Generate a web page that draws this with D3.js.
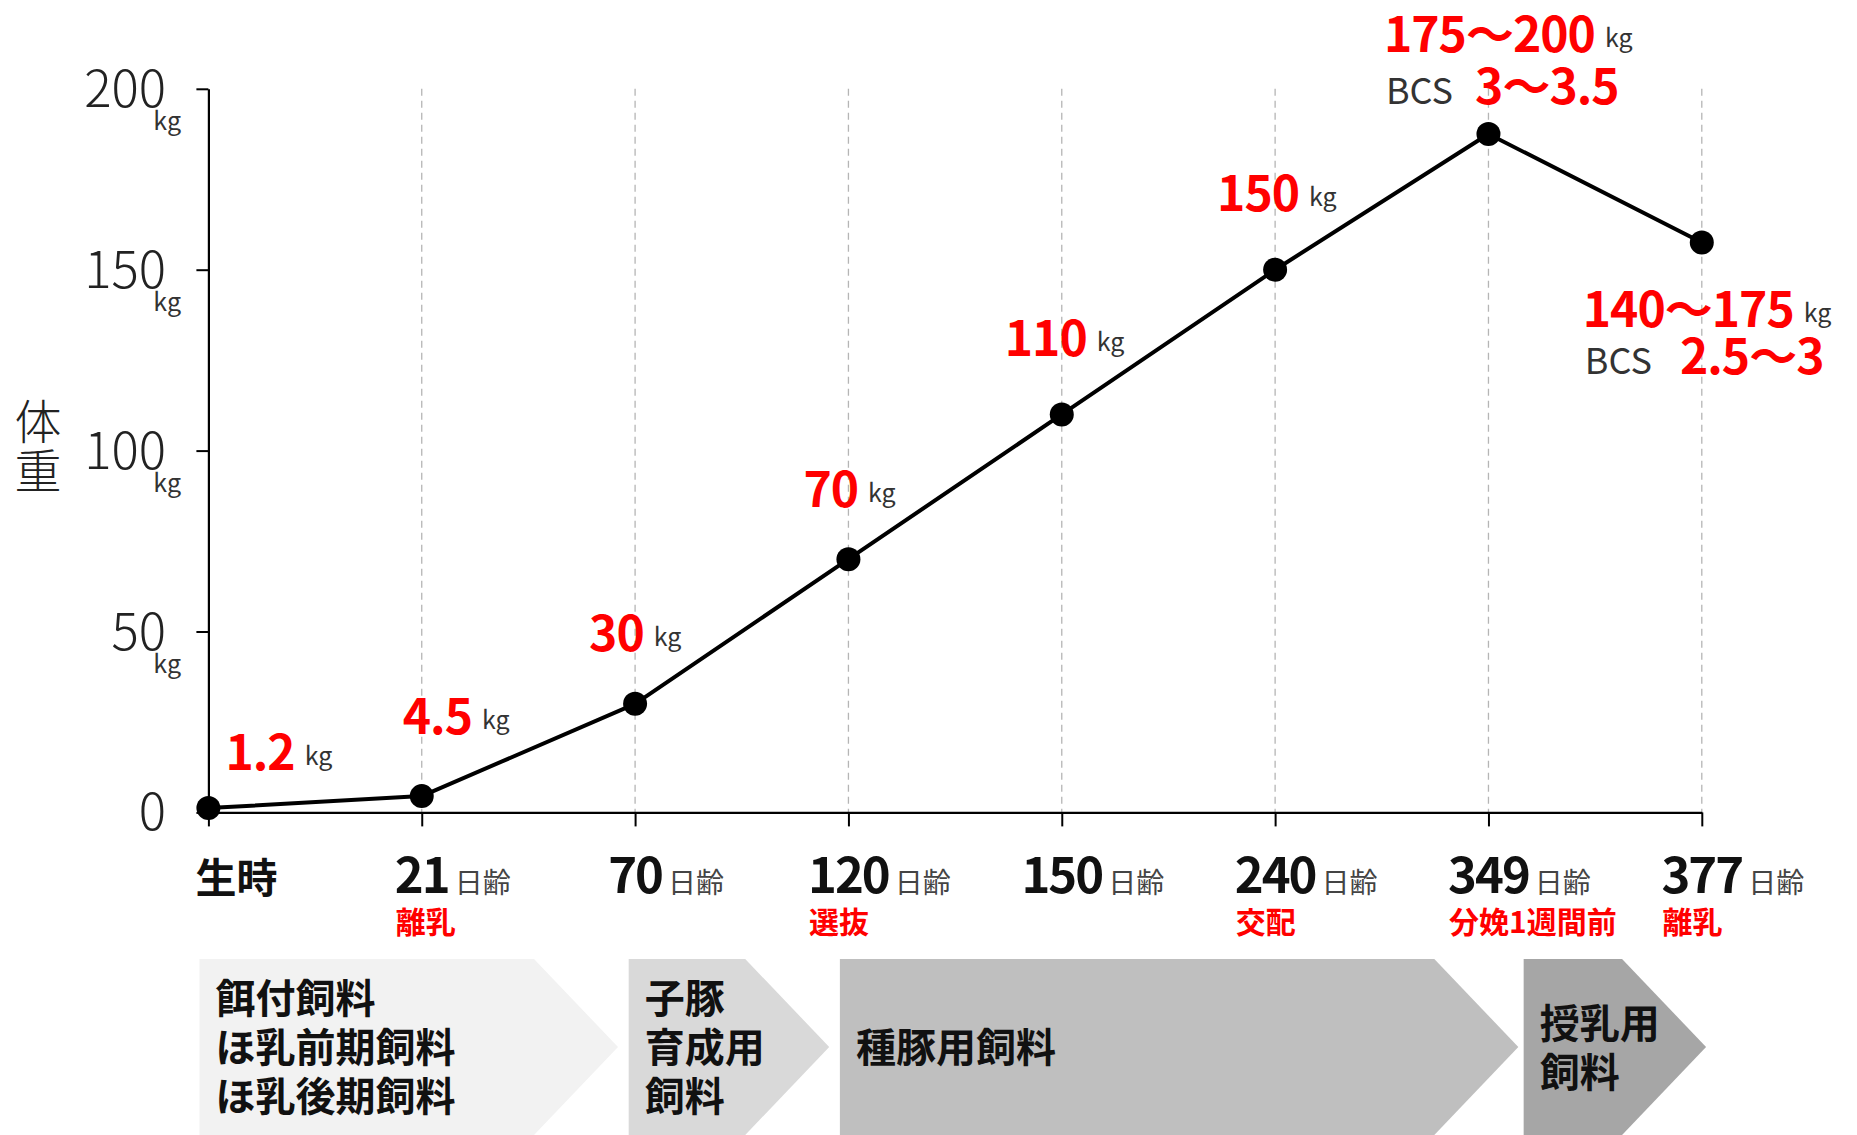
<!DOCTYPE html>
<html lang="ja">
<head>
<meta charset="utf-8">
<script src="https://cdn.jsdelivr.net/npm/d3@7"></script>
<style>
  html, body { margin: 0; padding: 0; background: #fff; }
  svg { display: block; }
  text { font-family: "Noto Sans CJK JP", "Noto Sans", sans-serif; }
</style>
</head>
<body>
<svg id="chart" width="1857" height="1135"></svg>
<script>
// ---------------- data ----------------
const categories   = ["生時", "21", "70", "120", "150", "240", "349", "377"];
const dayUnit      = "日齢";
const weights      = [1.2, 4.5, 30, 70, 110, 150, 187.5, 157.5];
const eventLabels  = ["", "離乳", "", "選抜", "", "交配", "分娩1週間前", "離乳"];
const valueLabels  = ["1.2", "4.5", "30", "70", "110", "150", "175～200", "140～175"];
const bcsLabels    = [null, null, null, null, null, null, "3～3.5", "2.5～3"];
const yTicks       = [0, 50, 100, 150, 200];
const yTitle       = ["体", "重"];
const unitLabel    = "kg";
const feedStages   = [
  ["餌付飼料", "ほ乳前期飼料", "ほ乳後期飼料"],
  ["子豚", "育成用", "飼料"],
  ["種豚用飼料"],
  ["授乳用", "飼料"]
];
// stage spans in category units (start, arrow tip)
const stageSpans   = [[-0.042, 1.92], [1.97, 2.91], [2.96, 6.14], [6.165, 7.02]];

// ---------------- layout / style ----------------
const RED = "#ff0000";
const stageColors = ["#f2f2f2", "#d9d9d9", "#bfbfbf", "#a6a6a6"];
// label offsets relative to the point (left edge of number, vertical centre)
const labelOffsets = [[17, -56], [-19, -80], [-46, -70], [-45, -70], [-57, -76], [-58, -76]];

const svg = d3.select("#chart");

const x = d3.scalePoint().domain(categories).range([208.4, 1701.8]);
const step = x.step();
const xf = v => x.range()[0] + v * step;
const y = d3.scaleLinear().domain([0, 200]).range([812.4, 88.8]);

// dashed verticals
svg.append("g").selectAll("line")
  .data(categories.slice(1))
  .join("line")
  .attr("x1", d => x(d)).attr("x2", d => x(d))
  .attr("y1", y(200)).attr("y2", y(0))
  .attr("stroke", "#b5b5b5").attr("stroke-width", 1.3)
  .attr("stroke-dasharray", "7,5");

// axes
const gy = svg.append("g").attr("transform", `translate(${x(categories[0])},0)`)
  .call(d3.axisLeft(y).tickValues(yTicks).tickSize(12).tickSizeOuter(0).tickFormat(""));
const gx = svg.append("g").attr("transform", `translate(0,${y(0)})`)
  .call(d3.axisBottom(x).tickSize(14).tickSizeOuter(0).tickFormat(""));
[gy, gx].forEach(g => {
  g.select(".domain").attr("stroke", "#000").attr("stroke-width", 2.2);
  g.selectAll(".tick line").attr("stroke", "#000").attr("stroke-width", 2);
});

// y tick labels
const yl = svg.append("g");
yTicks.forEach(t => {
  yl.append("text").attr("x", 166).attr("y", y(t) + 18)
    .attr("text-anchor", "end").attr("font-size", 51).attr("font-weight", 300)
    .attr("fill", "#222").text(t);
  if (t > 0) {
    yl.append("text").attr("x", 181).attr("y", y(t) + 41)
      .attr("text-anchor", "end").attr("font-size", 25).attr("fill", "#333").text(unitLabel);
  }
});

// y title
yTitle.forEach((c, i) => {
  svg.append("text").attr("x", 38).attr("y", 439 + i * 49)
    .attr("text-anchor", "middle").attr("font-size", 47).attr("font-weight", 300)
    .attr("fill", "#222").text(c);
});

// x labels
const xl = svg.append("g");
categories.forEach((c, i) => {
  const cx = x(c) + 28;
  const t = xl.append("text").attr("y", 893);
  if (i === 0) {
    t.append("tspan").attr("font-size", 41).attr("font-weight", 700).attr("fill", "#111").text(c);
  } else {
    t.append("tspan").attr("font-size", 49).attr("font-weight", 700).attr("fill", "#111")
      .attr("letter-spacing", -2).text(c);
    t.append("tspan").attr("dx", 6).attr("font-size", 28).attr("fill", "#444").text(dayUnit);
  }
  const w = t.node().getComputedTextLength();
  const left = cx - w / 2;
  t.attr("x", left);
  if (eventLabels[i]) {
    xl.append("text").attr("x", left + 1).attr("y", 933)
      .attr("font-size", 30).attr("font-weight", 700).attr("fill", RED).text(eventLabels[i]);
  }
});

// line + points
const pts = categories.map((c, i) => [x(c), y(weights[i])]);
svg.append("path").attr("d", d3.line()(pts))
  .attr("fill", "none").attr("stroke", "#000").attr("stroke-width", 4).attr("stroke-linejoin", "round");
svg.append("g").selectAll("circle").data(pts).join("circle")
  .attr("cx", d => d[0]).attr("cy", d => d[1]).attr("r", 12).attr("fill", "#000");

// value labels for first six points
function valueWithUnit(g, xLeft, yBase, val) {
  const t = g.append("text").attr("x", xLeft).attr("y", yBase);
  t.append("tspan").attr("font-size", 48).attr("font-weight", 700).attr("fill", RED)
    .attr("letter-spacing", -1).text(val);
  t.append("tspan").attr("dx", 10).attr("dy", -5).attr("font-size", 25).attr("fill", "#333").text(unitLabel);
  return t;
}
const vl = svg.append("g");
labelOffsets.forEach((o, i) => {
  valueWithUnit(vl, pts[i][0] + o[0], pts[i][1] + o[1] + 17.5, valueLabels[i]);
});

// range + BCS annotations
function rangeBlock(i, dx, base1, base2, gap) {
  const [px, py] = pts[i];
  valueWithUnit(vl, px + dx, py + base1, valueLabels[i]);
  const t = vl.append("text").attr("x", px + dx + 2).attr("y", py + base2);
  t.append("tspan").attr("font-size", 36).attr("fill", "#333").text("BCS");
  t.append("tspan").attr("dx", gap).attr("font-size", 48).attr("font-weight", 700)
    .attr("fill", RED).attr("letter-spacing", -1).text(bcsLabels[i]);
}
rangeBlock(6, -104.5, -82, -30, 22);
rangeBlock(7, -119, 84, 131, 28);

// feed stage arrows
const boxTop = 959, boxMid = 1047, boxBottom = 1135, tipW = 84;
const sg = svg.append("g");
feedStages.forEach((lines, i) => {
  const L = xf(stageSpans[i][0]), T = xf(stageSpans[i][1]), R = T - tipW;
  sg.append("polygon")
    .attr("points", [[L, boxTop], [R, boxTop], [T, boxMid], [R, boxBottom], [L, boxBottom]].map(p => p.join(",")).join(" "))
    .attr("fill", stageColors[i]);
  const lh = 49;
  lines.forEach((ln, j) => {
    const cy = boxMid + (j - (lines.length - 1) / 2) * lh;
    sg.append("text").attr("x", L + 16).attr("y", cy + 15)
      .attr("font-size", 40).attr("font-weight", 700).attr("fill", "#111").text(ln);
  });
});
</script>
</body>
</html>
